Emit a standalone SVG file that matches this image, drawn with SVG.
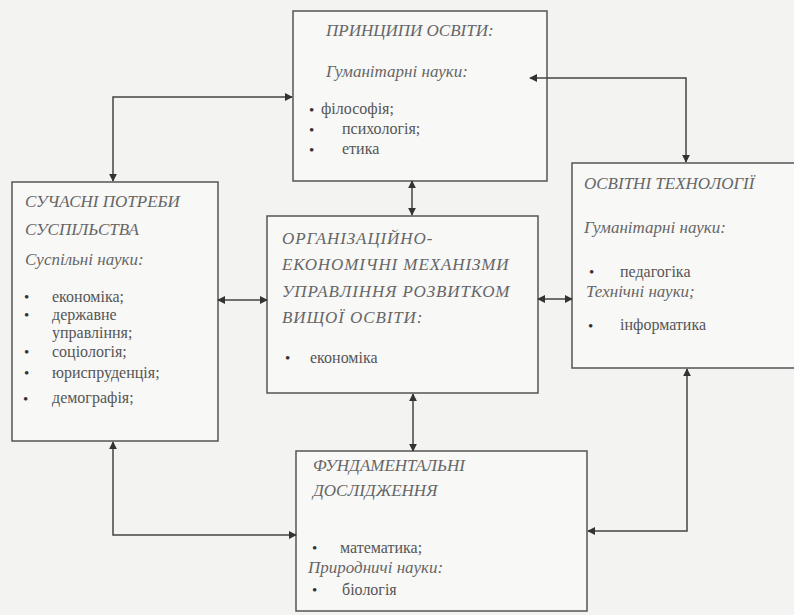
<svg xmlns="http://www.w3.org/2000/svg" width="794" height="615" viewBox="0 0 794 615">
<style>
.box{fill:#f8f8f7;stroke:#555;stroke-width:1.5}
.t{font-family:'Liberation Serif',serif;font-size:17px;fill:#666;font-style:italic}
.b{font-family:'Liberation Serif',serif;font-size:16px;fill:#555}
.d{font-family:'Liberation Serif',serif;font-size:15px;fill:#333}
.c{fill:none;stroke:#444;stroke-width:1.5;marker-start:url(#a);marker-end:url(#a)}
</style>
<defs>
<marker id="a" viewBox="0 0 10 10" refX="9" refY="5" markerWidth="8" markerHeight="8" markerUnits="userSpaceOnUse" orient="auto-start-reverse">
<path d="M0,0L10,5L0,10z" fill="#333"/>
</marker>
</defs>
<rect width="794" height="615" fill="#f3f3f1"/>
<g id="principles">
<rect class="box" x="293" y="11" width="254" height="170"/>
<text class="t" x="326" y="36">ПРИНЦИПИ ОСВІТИ:</text>
<text class="t" x="326" y="77">Гуманітарні науки:</text>
<text class="d" x="309" y="115">•</text><text class="b" x="321" y="114" font-size="17">філософія;</text>
<text class="d" x="309" y="135">•</text><text class="b" x="342" y="134" font-size="17">психологія;</text>
<text class="d" x="309" y="155">•</text><text class="b" x="342" y="154" font-size="17">етика</text>
</g>
<g id="society">
<rect class="box" x="12" y="182" width="206" height="259"/>
<text class="t" x="25" y="207">СУЧАСНІ ПОТРЕБИ</text>
<text class="t" x="25" y="235">СУСПІЛЬСТВА</text>
<text class="t" x="25" y="265">Суспільні науки:</text>
<text class="d" x="24" y="302">•</text><text class="b" x="52" y="302">економіка;</text>
<text class="d" x="24" y="320">•</text><text class="b" x="52" y="320">державне</text>
<text class="b" x="52" y="338">управління;</text>
<text class="d" x="24" y="357">•</text><text class="b" x="52" y="357">соціологія;</text>
<text class="d" x="24" y="378">•</text><text class="b" x="52" y="378">юриспруденція;</text>
<text class="d" x="23" y="404" font-size="20">•</text><text class="b" x="52" y="403">демографія;</text>
</g>
<g id="mechanisms">
<rect class="box" x="267" y="216" width="271" height="177"/>
<g class="t" font-size="18.5" letter-spacing="0.9">
<text x="282" y="244">ОРГАНІЗАЦІЙНО-</text>
<text x="282" y="270">ЕКОНОМІЧНІ МЕХАНІЗМИ</text>
<text x="282" y="297">УПРАВЛІННЯ РОЗВИТКОМ</text>
<text x="282" y="323">ВИЩОЇ ОСВІТИ:</text>
</g>
<text class="d" x="285" y="363">•</text><text class="b" x="310" y="363" font-size="17.5">економіка</text>
</g>
<g id="technologies">
<rect class="box" x="572" y="163" width="230" height="205"/>
<text class="t" x="584" y="189">ОСВІТНІ ТЕХНОЛОГІЇ</text>
<text class="t" x="584" y="233">Гуманітарні науки:</text>
<text class="d" x="589" y="277">•</text><text class="b" x="620" y="277" font-size="17.5">педагогіка</text>
<text class="t" x="586" y="297" font-size="16">Технічні науки;</text>
<text class="d" x="588" y="331" font-size="20">•</text><text class="b" x="620" y="330" font-size="17.5">інформатика</text>
</g>
<g id="fundamental">
<rect class="box" x="296" y="451" width="291" height="160"/>
<text class="t" x="313" y="471" font-size="16">ФУНДАМЕНТАЛЬНІ</text>
<text class="t" x="313" y="496" font-size="16">ДОСЛІДЖЕННЯ</text>
<text class="d" x="312" y="553">•</text><text class="b" x="340" y="553">математика;</text>
<text class="t" x="308" y="573" font-size="16">Природничі науки:</text>
<text class="d" x="312" y="595">•</text><text class="b" x="342" y="595">біологія</text>
</g>
<g id="connectors">
<path class="c" d="M113,181V97H292"/>
<path class="c" d="M530,78H686V162"/>
<path class="c" d="M412,181V215"/>
<path class="c" d="M218,300H267"/>
<path class="c" d="M538,299H572"/>
<path class="c" d="M413,394V451"/>
<path class="c" d="M113,442V535H296"/>
<path class="c" d="M687,369V531H588"/>
</g>
</svg>
